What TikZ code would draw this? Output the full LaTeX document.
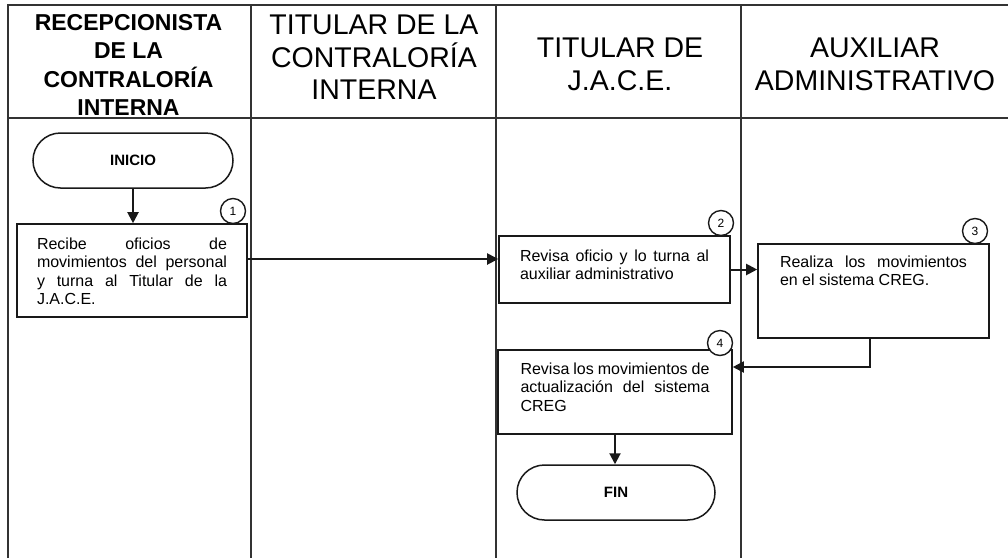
\documentclass[tikz,border=0pt]{standalone}
\usepackage{fontspec}
\setmainfont{Liberation Sans}
\usetikzlibrary{arrows.meta}
\tolerance=10000
\hbadness=10000
\vbadness=10000
\hyphenpenalty=10000
\exhyphenpenalty=10000
\newcommand\bxtext[4]{\parbox[c][#2][t]{#1}{\vspace*{#3}#4}}
\begin{document}
\begin{tikzpicture}[x=1pt,y=-1pt,
  frame/.style={line width=1.3pt,draw=black!80},
  stepbox/.style={draw=black!90,line width=1.6pt,rectangle,inner sep=0pt,
    font=\fontsize{16}{18.4}\selectfont},
  term/.style={draw=black!90,line width=1.5pt,rounded corners=27.5pt,inner sep=0pt,
    minimum height=55pt,font=\fontsize{15}{18}\selectfont\bfseries},
  num/.style={draw=black!90,line width=1.4pt,circle,fill=white,inner sep=0pt,
    minimum size=25pt,font=\fontsize{12}{14}\selectfont},
  arr/.style={line width=2pt,draw=black!90,-{Triangle[length=11pt,width=11pt]}},
  hbold/.style={inner sep=0pt,align=center,font=\fontsize{23}{28.5}\selectfont\bfseries},
  hreg/.style={inner sep=0pt,align=center,font=\fontsize{28.5}{32.5}\selectfont}
]
\useasboundingbox[fill=white] (0,0) rectangle (1008,558);
% frame
\draw[frame] (8,558) -- (8,5) -- (1008,5);
\draw[frame] (8,118) -- (1008,118);
\draw[frame] (251,5) -- (251,558);
\draw[frame] (496,5) -- (496,558);
\draw[frame] (741,5) -- (741,558);
% headers
\node[hbold] (h1) at (128.5,64.75) {RECEPCIONISTA\\DE LA\\CONTRALORÍA\\INTERNA};
\node[hreg] (h2) at (374,57.5) {TITULAR DE LA\\CONTRALORÍA\\INTERNA};
\node[hreg] (h3) at (620,64.3) {TITULAR DE\\J.A.C.E.};
\node[hreg] (h4) at (875,64.3) {AUXILIAR\\ADMINISTRATIVO};
% terminators
\node[term,minimum width=200pt] (inicio) at (133,160.5) {INICIO};
\node[term,minimum width=198pt] (fin) at (616,492.5) {FIN};
% process boxes
\node[stepbox,minimum width=230pt,minimum height=93pt] (b1) at (132,270.5)
  {\bxtext{190pt}{93pt}{13.7pt}{Recibe oficios de\linebreak movimientos del personal\linebreak y turna al Titular de la\linebreak J.A.C.E.}};
\node[stepbox,minimum width=231pt,minimum height=67pt] (b2) at (614.5,269.5)
  {\bxtext{189pt}{67pt}{13.7pt}{Revisa oficio y lo turna al\linebreak auxiliar administrativo}};
\node[stepbox,minimum width=231pt,minimum height=94pt] (b3) at (873.5,291)
  {\bxtext{187pt}{94pt}{11.7pt}{Realiza los movimientos\linebreak en el sistema CREG.}};
\node[stepbox,minimum width=234pt,minimum height=84pt] (b4) at (615,392)
  {\bxtext{189pt}{84pt}{12.7pt}{Revisa los movimientos de\linebreak actualización del sistema\linebreak CREG}};
% number circles
\node[num] (c1) at (233,211) {1};
\node[num] (c2) at (721,223) {2};
\node[num] (c3) at (975,231) {3};
\node[num] (c4) at (720,343) {4};
% connectors
\draw[arr] (inicio.south) -- (inicio.south |- b1.north);
\draw[arr] ([yshift=11.5pt]b1.east) coordinate (p1) -- (p1 -| b2.west);
\draw[arr] (b2.east) -- (b2.east -| b3.west);
\draw[arr] ([xshift=-3.5pt]b3.south) |- ([yshift=25pt]b4.east);
\draw[arr] (b4.south) -- (b4.south |- fin.north);
\end{tikzpicture}
\end{document}
